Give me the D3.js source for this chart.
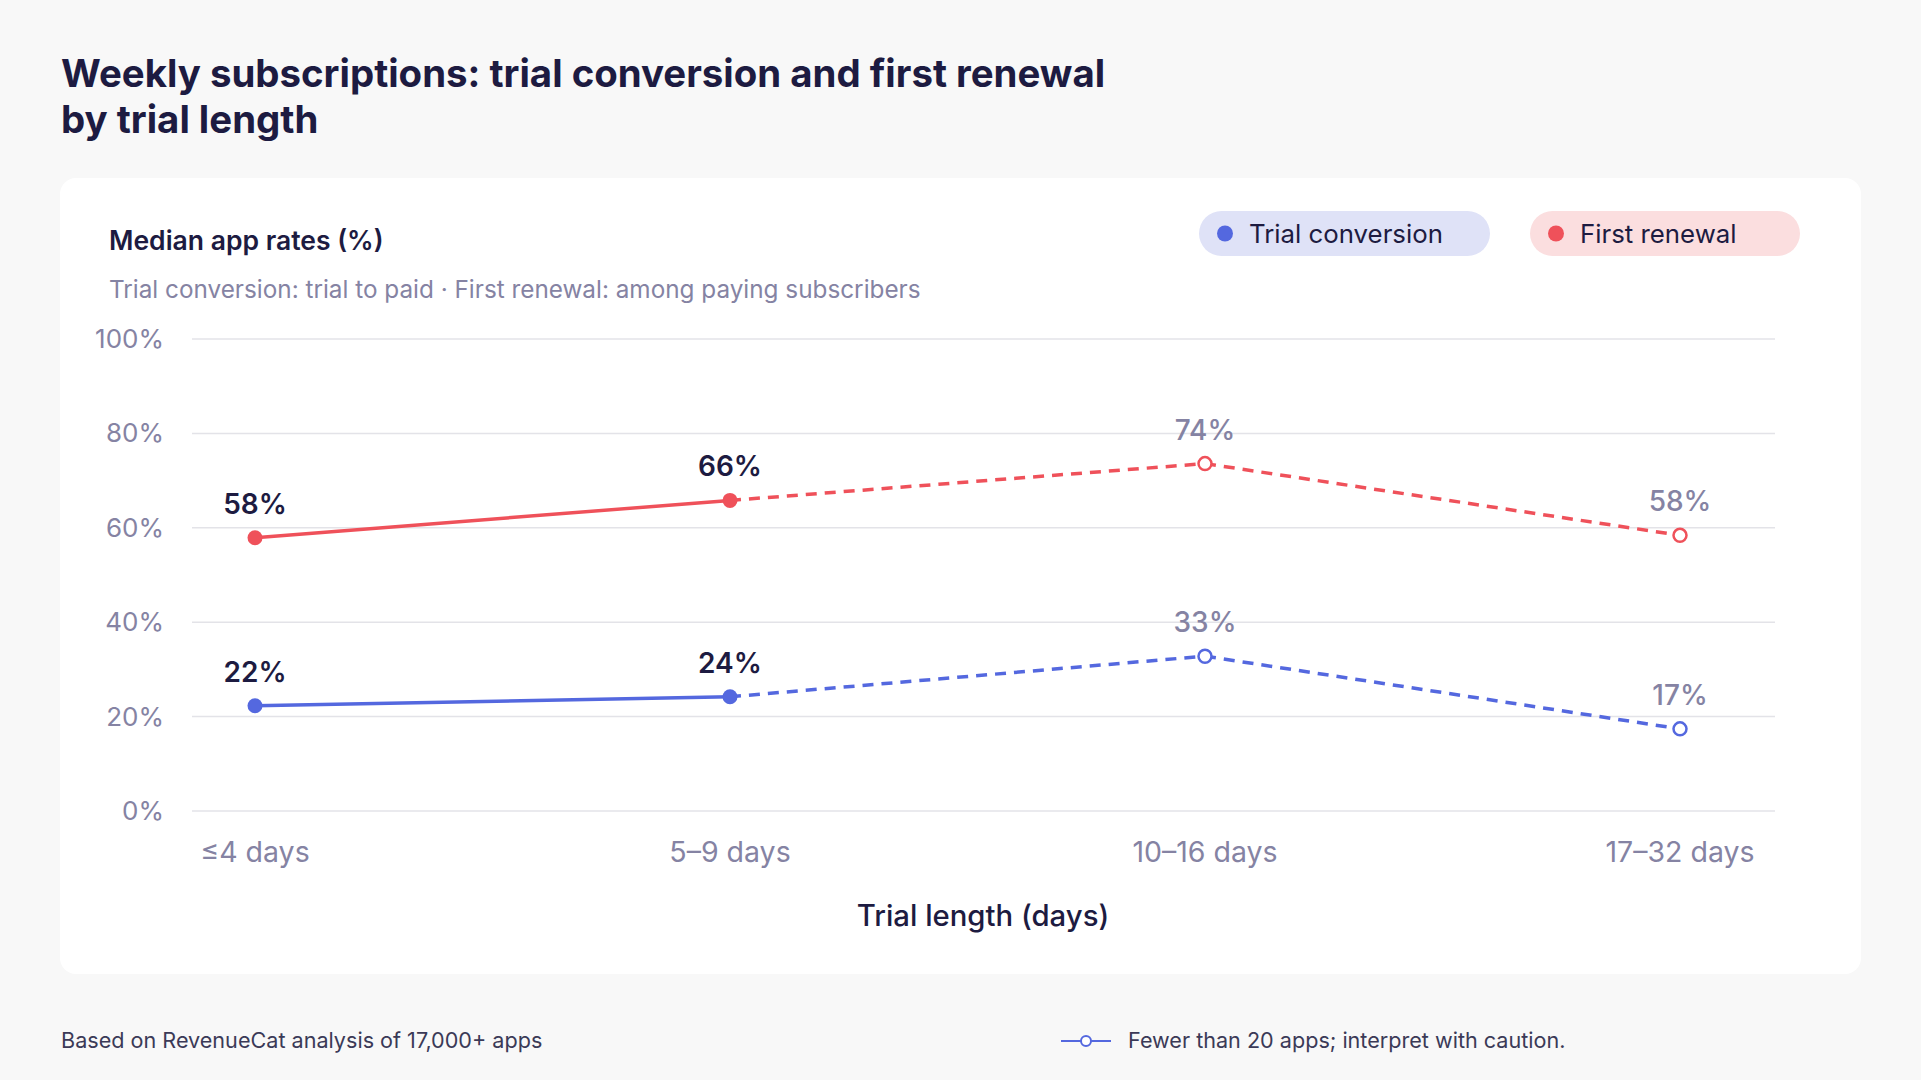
<!DOCTYPE html>
<html><head><meta charset="utf-8">
<script src="https://cdn.jsdelivr.net/npm/d3@7"></script>
<style>
html,body{margin:0;padding:0;background:#f8f8f8;}
svg{display:block;font-family:Inter,"Noto Sans",sans-serif;}
</style></head><body>
<svg id="c" width="1921" height="1080"></svg>
<script>
const categories = ["≤4 days","5–9 days","10–16 days","17–32 days"];
const trialConversion = [22.3, 24.2, 32.8, 17.4];
const firstRenewal = [57.9, 65.8, 73.6, 58.4];
const trialLabels = ["22%","24%","33%","17%"];
const renewalLabels = ["58%","66%","74%","58%"];
const lowSample = [false, false, true, true];
const yTicks = [0,20,40,60,80,100];

const navy = "#1d1b41", gray = "#8583a3", blue = "#5468df", red = "#ef515a";
const svg = d3.select("#c");

svg.append("rect").attr("width",1921).attr("height",1080).attr("fill","#f8f8f8");
svg.append("text").attr("x",61).attr("y",87).attr("fill",navy).attr("font-size",38.4).attr("font-weight",700)
  .text("Weekly subscriptions: trial conversion and first renewal");
svg.append("text").attr("x",61).attr("y",133).attr("fill",navy).attr("font-size",38.4).attr("font-weight",700)
  .text("by trial length");

svg.append("rect").attr("x",60).attr("y",178).attr("width",1801).attr("height",796).attr("rx",16).attr("fill","#fff");

svg.append("text").attr("x",109).attr("y",250).attr("fill",navy).attr("font-size",26.5).attr("font-weight",600).text("Median app rates (%)");
svg.append("text").attr("x",109).attr("y",298).attr("fill",gray).attr("font-size",24.3).text("Trial conversion: trial to paid · First renewal: among paying subscribers");

// legend
const legend = [{name:"Trial conversion",fill:"#dfe2f7",c:blue,x:1199,w:291},{name:"First renewal",fill:"#fbdedf",c:red,x:1530,w:270}];
legend.forEach(l=>{
  const g = svg.append("g").attr("transform",`translate(${l.x},211)`);
  g.append("rect").attr("width",l.w).attr("height",45).attr("rx",22.5).attr("fill",l.fill);
  g.append("circle").attr("cx",26).attr("cy",22.5).attr("r",8).attr("fill",l.c);
  g.append("text").attr("x",50).attr("y",31.5).attr("font-size",25.8).attr("fill",navy).text(l.name);
});

const x = d3.scalePoint().domain(categories).range([255,1680]);
const y = d3.scaleLinear().domain([0,100]).range([811,339]);

const grid = svg.append("g");
yTicks.forEach(t=>{
  grid.append("line").attr("x1",192).attr("x2",1775).attr("y1",y(t)).attr("y2",y(t)).attr("stroke","#e3e3e8").attr("stroke-width",1.5);
  grid.append("text").attr("x",164).attr("y",y(t)+9).attr("text-anchor","end").attr("font-size",26).attr("fill",gray).text(t+"%");
});

categories.forEach(c=>{
  svg.append("text").attr("x",x(c)).attr("y",862).attr("text-anchor","middle").attr("font-size",28.5).attr("fill",gray).text(c);
});
svg.append("text").attr("x",983).attr("y",926).attr("text-anchor","middle").attr("font-size",29.3).attr("font-weight",500).attr("fill",navy).text("Trial length (days)");

function series(vals, labels, color){
  const pts = vals.map((v,i)=>({c:categories[i],v,lab:labels[i],low:lowSample[i]}));
  const line = d3.line().x(d=>x(d.c)).y(d=>y(d.v));
  const g = svg.append("g");
  for(let i=0;i<pts.length-1;i++){
    const dashed = pts[i+1].low;
    g.append("path").attr("d",line([pts[i],pts[i+1]])).attr("fill","none").attr("stroke",color)
      .attr("stroke-width",3.5).attr("stroke-dasharray",dashed?"11,8":null);
  }
  pts.forEach(p=>{
    g.append("circle").attr("cx",x(p.c)).attr("cy",y(p.v)).attr("r",p.low?6.5:7.5)
      .attr("fill",p.low?"#fff":color).attr("stroke",color).attr("stroke-width",p.low?2.5:0);
    g.append("text").attr("x",x(p.c)).attr("y",y(p.v)-24).attr("text-anchor","middle").attr("font-size",28)
      .attr("font-weight",p.low?500:600).attr("fill",p.low?gray:navy).text(p.lab);
  });
}
series(firstRenewal, renewalLabels, red);
series(trialConversion, trialLabels, blue);

// footer
svg.append("text").attr("x",61).attr("y",1048).attr("font-size",21.6).attr("fill","#3b3a57").text("Based on RevenueCat analysis of 17,000+ apps");
const fg = svg.append("g");
fg.append("line").attr("x1",1061).attr("x2",1111).attr("y1",1041).attr("y2",1041).attr("stroke",blue).attr("stroke-width",2);
fg.append("circle").attr("cx",1086).attr("cy",1041).attr("r",5).attr("fill","#fff").attr("stroke",blue).attr("stroke-width",2);
fg.append("text").attr("x",1128).attr("y",1048).attr("font-size",21.6).attr("fill","#3b3a57").text("Fewer than 20 apps; interpret with caution.");
</script>
</body></html>
